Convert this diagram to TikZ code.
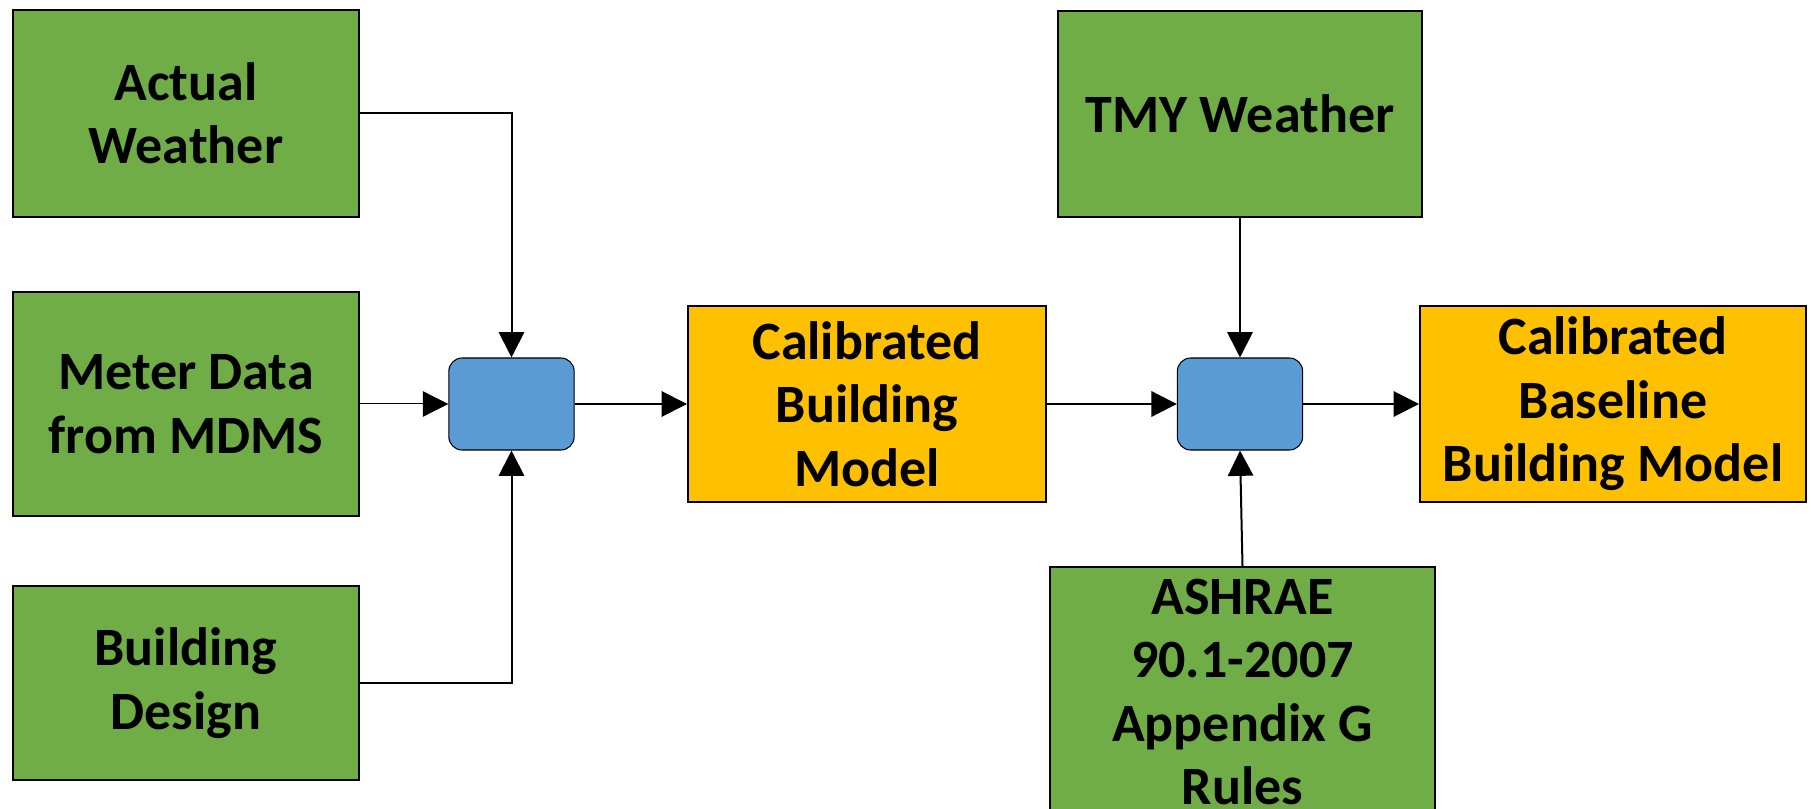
\documentclass[tikz,border=0pt]{standalone}
\usepackage{fontspec}
\setmainfont{Carlito}
\usetikzlibrary{arrows.meta}

\tikzset{every picture/.style={line width=0.75pt}}
\tikzset{
  inbox/.style={draw, line width=1.5pt, fill=inputgreen, align=center, inner sep=0.75pt,
    font=\fontsize{40.5}{47.6}\selectfont\bfseries},
  modelbox/.style={inbox, fill=modelgold},
  procbox/.style={draw, line width=0.8pt, fill=procblue, rounded corners=10pt,
    minimum width=94pt, minimum height=69pt},
  flow/.style={line width=1.5pt, -{Triangle[length=19pt,width=19pt]}},
  thinflow/.style={flow, line width=0.75pt}
}
\definecolor{inputgreen}{HTML}{70AD47}
\definecolor{modelgold}{HTML}{FFC000}
\definecolor{procblue}{HTML}{5B9BD5}

\begin{document}
\begin{tikzpicture}[x=0.75pt,y=0.75pt,yscale=-1,xscale=1]
	%set diagram size to 1811 x 809
	\useasboundingbox (0,0) rectangle (1811,809);
	\clip (0,0) rectangle (1811,809);
	%Shape: Rectangle [Actual Weather]
	\node [inbox, minimum width=259.5pt, minimum height=155.25pt] (aw) at (186,113.5) {Actual\\Weather};
	%Shape: Rectangle [Meter Data]
	\node [inbox, minimum width=259.5pt, minimum height=168pt] (md) at (186,404) {Meter Data\\from MDMS};
	%Shape: Rectangle [Building Design]
	\node [inbox, minimum width=259.5pt, minimum height=145.5pt] (bd) at (186,683) {Building\\Design};
	%Shape: Rounded Rectangle [calibration step]
	\node [procbox] (cal) at (511.5,404) {};
	%Shape: Rectangle [Calibrated Building Model]
	\node [modelbox, minimum width=268.5pt, minimum height=147pt] (cbm) at (867,404) {Calibrated\\Building\\Model};
	%Shape: Rectangle [TMY Weather]
	\node [inbox, minimum width=273pt, minimum height=154.5pt] (tmy) at (1240,114) {TMY Weather};
	%Shape: Rounded Rectangle [baseline step]
	\node [procbox] (base) at (1240,404) {};
	%Shape: Rectangle [Calibrated Baseline Building Model]
	\node [modelbox, minimum width=289.5pt, minimum height=147pt] (cbbm) at (1613,404) {Calibrated\\Baseline\\Building Model};
	%Shape: Rectangle [ASHRAE rules]
	\node [inbox, minimum width=288.75pt, minimum height=187.5pt] (ash) at (1242.5,692) {ASHRAE\\90.1-2007\\Appendix G\\Rules};
	%Connectors
	\draw [flow] (aw.east) -| (cal.north);
	\draw [thinflow] (md.east) -- (cal.west);
	\draw [flow] (bd.east) -| (cal.south);
	\draw [flow] (cal.east) -- (cbm.west);
	\draw [flow] (cbm.east) -- (base.west);
	\draw [flow] (tmy.south) -- (base.north);
	\draw [flow] (ash.north) -- (base.south);
	\draw [flow] (base.east) -- (cbbm.west);
\end{tikzpicture}
\end{document}
